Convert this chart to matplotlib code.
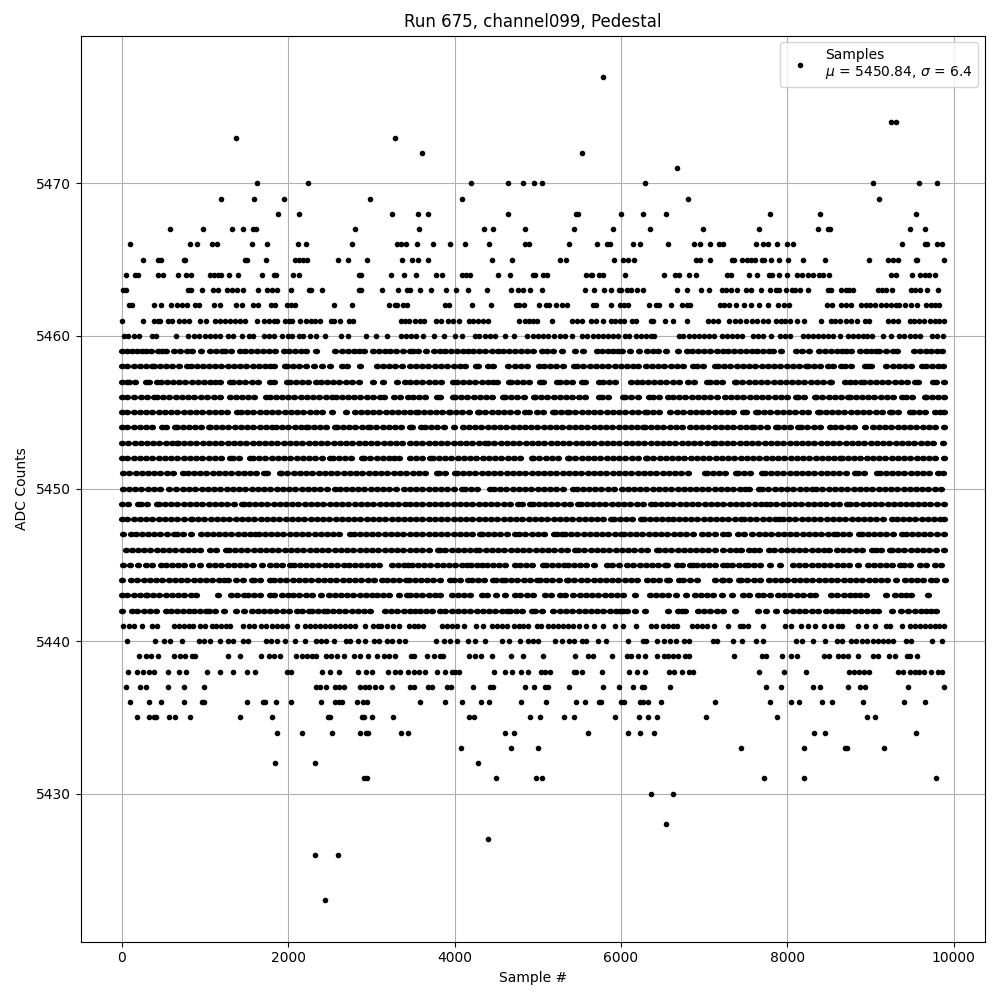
import matplotlib
matplotlib.use("Agg")
import matplotlib.pyplot as plt
from matplotlib.markers import MarkerStyle
from matplotlib.transforms import Affine2D

row_5423 = [2448]
row_5426 = [2328, 2604]
row_5427 = [4408]
row_5428 = [6544]
row_5430 = [6364, 6628]
row_5431 = [2908, 2948, 4504, 4984, 5056, 7720, 8200, 9784]
row_5432 = [1840, 2320, 4288]
row_5433 = [4072, 4684, 5008, 7444, 8200, 8692, 8716, 9160]
row_5434 = [1864, 2164, 2524, 2860, 2932, 2956, 3352, 3436, 4612, 4720, 5608, 6088, 6232, 6400, 8320, 8452, 9544]
row_5435 = [184, 328, 388, 412, 568, 640, 820, 1420, 1804, 2476, 2500, 2884, 2908, 3004, 3256, 4180, 4240, 4912, 5032, 5320, 5440, 5932, 6220, 6328, 6436, 7024, 7876, 8956, 9052]
row_5436 = [100, 328, 472, 748, 964, 988, 1504, 1696, 1720, 1852, 2032, 2392, 2560, 2608, 2644, 2824, 2896, 2944, 3580, 3880, 4084, 4324, 4420, 4804, 5104, 5464, 5572, 5740, 5764, 6004, 6040, 6232, 6268, 6328, 6484, 7132, 7792, 8044, 8140, 8416, 8536, 8908, 9400, 9652]
row_5437 = [52, 220, 292, 556, 748, 988, 2332, 2380, 2452, 2560, 2608, 2668, 2860, 2920, 2968, 3040, 3112, 3244, 3460, 3508, 3676, 3724, 3904, 3952, 4228, 4432, 4468, 4852, 4960, 5092, 5128, 5380, 5788, 5980, 6148, 6256, 6280, 6592, 7744, 7924, 8308, 8392, 8728, 8872, 8932, 9448, 9880]
row_5438 = [76, 184, 256, 328, 388, 556, 688, 772, 1024, 1180, 1336, 1504, 1600, 1984, 2032, 2404, 2500, 2608, 2836, 2932, 3004, 3196, 3280, 3340, 3436, 3508, 3568, 3640, 3784, 3880, 3964, 4000, 4048, 4480, 4612, 4696, 4804, 4888, 5044, 5092, 5152, 5440, 5464, 5536, 5776, 6100, 6196, 6292, 6580, 6640, 6736, 6820, 6868, 7660, 7960, 8224, 8740, 8800, 8860, 8920, 8980, 9328, 9388, 9472, 9532, 9580, 9640, 9724, 9808, 9856]
row_5439 = [208, 292, 352, 436, 628, 700, 760, 844, 880, 1276, 1420, 1672, 1768, 1828, 1900, 2092, 2164, 2224, 2284, 2332, 2452, 2512, 2584, 2668, 2788, 2860, 2956, 3064, 3148, 3208, 3280, 3472, 3508, 3664, 3748, 3820, 3856, 4180, 4252, 4324, 4456, 4684, 4828, 5068, 5452, 5608, 5668, 5896, 6076, 6124, 6208, 6292, 6436, 6520, 6568, 6628, 6688, 6772, 6820, 7360, 7696, 7744, 7936, 8044, 8116, 8440, 8500, 8608, 8668, 8728, 8848, 9028, 9088, 9220, 9292, 9436, 9472, 9556]
row_5440 = [64, 400, 508, 580, 724, 928, 988, 1060, 1180, 1276, 1336, 1456, 1516, 1732, 1792, 1864, 1960, 2080, 2200, 2332, 2392, 2452, 2548, 2692, 2740, 2836, 2920, 3028, 3088, 3184, 3244, 3328, 3400, 3772, 3868, 3940, 4024, 4156, 4252, 4372, 4576, 4660, 4792, 4888, 4948, 5008, 5212, 5296, 5380, 5440, 5536, 5584, 5728, 5824, 6088, 6268, 6304, 6436, 6520, 6592, 6664, 6760, 6820, 7108, 7156, 7348, 7456, 7624, 7708, 8104, 8176, 8308, 8452, 8596, 8656, 8764, 8824, 8896, 8956, 9028, 9088, 9148, 9208, 9268, 9424, 9484, 9736, 9856]
row_5441 = [20, 88, 148, 244, 364, 424, 628, 688, 748, 808, 856, 940, 1000, 1084, 1132, 1192, 1252, 1300, 1456, 1528, 1588, 1672, 1732, 1804, 1864, 1924, 1984, 2112, 2200, 2260, 2320, 2380, 2440, 2500, 2560, 2620, 2680, 2740, 2800, 2920, 3016, 3076, 3112, 3184, 3256, 3328, 3448, 3508, 3556, 3616, 3844, 3904, 3964, 4024, 4108, 4264, 4348, 4456, 4516, 4576, 4636, 4720, 4780, 4828, 4888, 4996, 5044, 5128, 5188, 5248, 5308, 5368, 5428, 5500, 5584, 5680, 5788, 5932, 6028, 6184, 6364, 6424, 6508, 6568, 6628, 6676, 6856, 6916, 6976, 7036, 7120, 7288, 7432, 7468, 7528, 7708, 7972, 8044, 8164, 8248, 8332, 8440, 8524, 8608, 8656, 8848, 8944, 9052, 9184, 9232, 9376, 9472, 9532, 9592, 9652, 9712, 9772, 9820, 9880]
row_5442 = [8, 128, 188, 268, 340, 410, 528, 588, 660, 735, 808, 868, 940, 1008, 1048, 1120, 1228, 1376, 1476, 1568, 1636, 1710, 1785, 1860, 1935, 2010, 2108, 2168, 2248, 2288, 2360, 2428, 2468, 2540, 2615, 2690, 2765, 2840, 2915, 2988, 3168, 3240, 3308, 3388, 3460, 3528, 3588, 3660, 3728, 3820, 3888, 3968, 4040, 4115, 4190, 4265, 4340, 4415, 4490, 4565, 4628, 4668, 4740, 4815, 4928, 4968, 5048, 5180, 5268, 5340, 5415, 5490, 5565, 5640, 5715, 5790, 5865, 5940, 5988, 6028, 6068, 6168, 6288, 6568, 6688, 6728, 6768, 6928, 7000, 7075, 7150, 7228, 7368, 7648, 7748, 7860, 7988, 8068, 8140, 8215, 8290, 8365, 8468, 8540, 8608, 8668, 8728, 8808, 8880, 8955, 9030, 9088, 9256, 9368, 9448, 9528, 9608, 9660, 9725, 9788]
row_5443 = [0, 70, 145, 220, 288, 308, 380, 455, 530, 605, 680, 755, 830, 888, 1156, 1316, 1390, 1468, 1516, 1590, 1665, 1780, 1836, 1928, 1996, 2060, 2135, 2210, 2285, 2396, 2488, 2560, 2635, 2710, 2785, 2860, 2935, 3008, 3068, 3140, 3215, 3328, 3428, 3468, 3540, 3608, 3688, 3768, 3828, 3968, 4040, 4115, 4190, 4328, 4396, 4500, 4612, 4728, 4788, 4868, 4948, 5088, 5160, 5268, 5328, 5428, 5508, 5580, 5655, 5730, 5805, 5880, 5948, 6028, 6172, 6348, 6420, 6495, 6568, 6660, 6780, 6888, 6956, 7030, 7105, 7208, 7336, 7468, 7540, 7648, 7708, 7796, 7888, 7960, 8035, 8110, 8185, 8268, 8328, 8528, 8600, 8675, 8750, 8808, 8868, 8948, 9188, 9288, 9360, 9428, 9488, 9688]
row_5444 = [8, 116, 190, 265, 340, 415, 490, 565, 640, 715, 790, 865, 940, 1015, 1090, 1165, 1228, 1276, 1380, 1455, 1568, 1588, 1660, 1788, 1828, 1908, 1980, 2055, 2130, 2205, 2280, 2355, 2430, 2505, 2580, 2655, 2730, 2805, 2880, 2955, 3030, 3128, 3188, 3260, 3335, 3420, 3448, 3520, 3595, 3670, 3745, 3820, 3948, 3988, 4060, 4168, 4208, 4280, 4355, 4460, 4500, 4568, 4608, 4680, 4755, 4830, 4905, 4996, 5028, 5100, 5175, 5250, 5348, 5368, 5440, 5515, 5590, 5676, 5748, 5820, 5895, 5970, 6045, 6120, 6195, 6308, 6388, 6460, 6548, 6580, 6700, 6748, 6828, 6908, 7128, 7208, 7228, 7300, 7420, 7448, 7520, 7595, 7668, 7780, 7850, 7925, 8000, 8075, 8150, 8225, 8300, 8375, 8450, 8525, 8600, 8675, 8750, 8825, 8900, 8975, 9050, 9125, 9196, 9308, 9408, 9488, 9560, 9635, 9728, 9780, 9888]
row_5445 = [20, 100, 196, 288, 368, 468, 528, 600, 675, 750, 848, 940, 1048, 1128, 1200, 1275, 1350, 1425, 1500, 1575, 1688, 1780, 1855, 1930, 2028, 2068, 2140, 2215, 2290, 2365, 2440, 2515, 2590, 2668, 2728, 2800, 2875, 2950, 3025, 3088, 3248, 3320, 3388, 3436, 3488, 3560, 3635, 3710, 3785, 3860, 3935, 4010, 4085, 4148, 4196, 4276, 4328, 4388, 4460, 4535, 4610, 4728, 4788, 4860, 4935, 5060, 5100, 5168, 5240, 5316, 5360, 5432, 5507, 5582, 5680, 5828, 5888, 5980, 6076, 6148, 6223, 6298, 6373, 6448, 6528, 6548, 6676, 6728, 6828, 6868, 6908, 6980, 7055, 7130, 7228, 7268, 7340, 7415, 7488, 7528, 7596, 7668, 7788, 7908, 8068, 8140, 8215, 8290, 8365, 8440, 8515, 8590, 8665, 8740, 8848, 8968, 9040, 9108, 9180, 9260, 9348, 9396, 9476, 9588, 9660, 9768, 9848]
row_5446 = [48, 120, 195, 270, 345, 420, 495, 570, 645, 720, 795, 870, 945, 1060, 1140, 1260, 1288, 1360, 1435, 1510, 1585, 1660, 1735, 1810, 1885, 1960, 2035, 2110, 2185, 2260, 2335, 2410, 2485, 2560, 2635, 2710, 2785, 2860, 2935, 3010, 3085, 3160, 3235, 3310, 3385, 3468, 3540, 3615, 3690, 3796, 3820, 3890, 3965, 4040, 4115, 4190, 4260, 4300, 4380, 4450, 4525, 4600, 4675, 4750, 4825, 4900, 4975, 5050, 5125, 5200, 5275, 5350, 5448, 5488, 5560, 5635, 5710, 5785, 5860, 5935, 6010, 6085, 6160, 6235, 6310, 6428, 6460, 6530, 6605, 6680, 6755, 6828, 6900, 6975, 7050, 7125, 7228, 7308, 7388, 7448, 7540, 7596, 7656, 7780, 7840, 7920, 7990, 8065, 8140, 8215, 8290, 8365, 8436, 8500, 8596, 8668, 8743, 8818, 8893, 9020, 9060, 9130, 9228, 9260, 9330, 9405, 9480, 9555, 9630, 9705, 9780, 9880]
row_5447 = [16, 108, 168, 240, 315, 390, 465, 540, 628, 668, 740, 836, 948, 1020, 1095, 1170, 1245, 1320, 1395, 1470, 1545, 1608, 1648, 1720, 1795, 1870, 1945, 2020, 2095, 2170, 2245, 2320, 2395, 2468, 2540, 2610, 2748, 2788, 2860, 2935, 3010, 3085, 3160, 3235, 3310, 3385, 3468, 3540, 3615, 3690, 3765, 3840, 3915, 3990, 4065, 4140, 4215, 4308, 4328, 4400, 4475, 4550, 4625, 4728, 4780, 4850, 4925, 5000, 5075, 5196, 5228, 5288, 5328, 5400, 5475, 5550, 5625, 5700, 5775, 5850, 5925, 5996, 6036, 6108, 6183, 6258, 6333, 6408, 6483, 6558, 6633, 6708, 6783, 6868, 6968, 7040, 7130, 7228, 7288, 7408, 7480, 7576, 7660, 7732, 7807, 7882, 7957, 8032, 8107, 8182, 8257, 8332, 8407, 8482, 8556, 8596, 8668, 8743, 8856, 8900, 8968, 9040, 9115, 9190, 9265, 9380, 9420, 9492, 9567, 9642, 9717, 9792, 9876]
row_5448 = [0, 70, 145, 220, 295, 370, 445, 520, 595, 670, 745, 828, 848, 920, 995, 1070, 1145, 1220, 1295, 1370, 1445, 1520, 1595, 1670, 1745, 1820, 1895, 1970, 2045, 2120, 2195, 2270, 2345, 2420, 2495, 2570, 2645, 2720, 2795, 2870, 2945, 3020, 3095, 3170, 3245, 3320, 3395, 3468, 3540, 3615, 3690, 3765, 3840, 3915, 3990, 4065, 4140, 4215, 4290, 4365, 4440, 4515, 4590, 4665, 4740, 4815, 4890, 4965, 5040, 5115, 5190, 5265, 5340, 5415, 5490, 5565, 5640, 5715, 5790, 5876, 5916, 5988, 6063, 6138, 6236, 6276, 6348, 6423, 6498, 6568, 6620, 6692, 6767, 6842, 6917, 6992, 7067, 7142, 7217, 7292, 7367, 7440, 7480, 7552, 7627, 7702, 7777, 7848, 7900, 7948, 8020, 8095, 8170, 8245, 8320, 8395, 8470, 8545, 8620, 8695, 8770, 8845, 8920, 8995, 9070, 9145, 9260, 9316, 9388, 9463, 9538, 9613, 9688, 9763, 9838, 9880]
row_5449 = [8, 80, 196, 228, 300, 428, 448, 520, 595, 670, 745, 820, 895, 970, 1045, 1120, 1195, 1270, 1345, 1448, 1476, 1528, 1600, 1675, 1750, 1825, 1900, 1975, 2050, 2125, 2200, 2275, 2350, 2425, 2500, 2575, 2650, 2725, 2800, 2875, 2950, 3025, 3100, 3175, 3250, 3325, 3400, 3468, 3540, 3615, 3690, 3765, 3840, 3915, 3990, 4065, 4140, 4215, 4290, 4365, 4440, 4515, 4590, 4665, 4768, 4808, 4908, 4940, 5012, 5087, 5162, 5237, 5312, 5387, 5488, 5516, 5588, 5663, 5738, 5813, 5888, 5963, 6038, 6113, 6188, 6263, 6356, 6408, 6480, 6555, 6630, 6705, 6780, 6855, 6930, 7005, 7080, 7155, 7230, 7305, 7380, 7455, 7530, 7605, 7680, 7748, 7796, 7868, 7943, 8018, 8093, 8168, 8243, 8318, 8393, 8468, 8543, 8618, 8720, 8756, 8828, 8903, 8978, 9053, 9128, 9203, 9278, 9353, 9428, 9496, 9568, 9643, 9718, 9793, 9880]
row_5450 = [16, 88, 163, 238, 313, 388, 463, 568, 648, 740, 812, 887, 962, 1037, 1112, 1187, 1262, 1337, 1412, 1487, 1562, 1637, 1712, 1787, 1862, 1937, 2012, 2087, 2162, 2237, 2312, 2387, 2462, 2568, 2620, 2692, 2767, 2842, 2917, 2992, 3067, 3142, 3217, 3292, 3388, 3468, 3540, 3615, 3690, 3765, 3840, 3915, 3990, 4088, 4128, 4200, 4275, 4428, 4476, 4548, 4623, 4698, 4773, 4848, 4923, 4998, 5073, 5148, 5223, 5298, 5428, 5468, 5540, 5615, 5690, 5765, 5840, 5915, 6008, 6080, 6155, 6230, 6305, 6380, 6455, 6530, 6605, 6680, 6755, 6828, 6900, 6975, 7050, 7125, 7200, 7275, 7350, 7425, 7488, 7540, 7660, 7700, 7772, 7847, 7922, 7997, 8072, 8147, 8222, 8300, 8348, 8420, 8495, 8570, 8645, 8720, 8795, 8870, 8945, 9020, 9095, 9170, 9245, 9320, 9395, 9470, 9545, 9620, 9695, 9770, 9848]
row_5451 = [20, 92, 167, 242, 317, 392, 467, 542, 617, 740, 796, 868, 943, 1018, 1093, 1168, 1243, 1318, 1393, 1468, 1543, 1618, 1708, 1748, 1900, 1920, 1992, 2067, 2142, 2217, 2292, 2367, 2442, 2517, 2592, 2667, 2742, 2817, 2892, 2967, 3042, 3117, 3192, 3267, 3342, 3417, 3500, 3575, 3650, 3788, 3808, 3880, 4008, 4028, 4100, 4175, 4250, 4325, 4400, 4475, 4550, 4625, 4700, 4775, 4850, 4925, 5000, 5075, 5150, 5225, 5300, 5375, 5450, 5525, 5600, 5675, 5750, 5825, 5900, 5975, 6050, 6125, 6200, 6275, 6350, 6425, 6500, 6575, 6650, 6725, 6800, 7008, 7028, 7100, 7175, 7250, 7380, 7408, 7480, 7555, 7700, 7728, 7800, 7875, 7950, 8025, 8100, 8175, 8250, 8325, 8400, 8475, 8550, 8625, 8700, 8808, 8848, 8920, 9076, 9108, 9180, 9255, 9330, 9405, 9480, 9555, 9630, 9705, 9808, 9868]
row_5452 = [0, 70, 145, 220, 295, 370, 445, 520, 595, 670, 745, 820, 895, 970, 1045, 1120, 1195, 1300, 1340, 1412, 1548, 1580, 1652, 1727, 1802, 1877, 1952, 2027, 2102, 2177, 2252, 2327, 2402, 2500, 2540, 2612, 2687, 2762, 2888, 2916, 2988, 3063, 3138, 3208, 3268, 3328, 3468, 3540, 3615, 3708, 3740, 3812, 3887, 3962, 4037, 4112, 4187, 4262, 4337, 4412, 4487, 4562, 4637, 4712, 4787, 4928, 4948, 5020, 5095, 5170, 5245, 5360, 5380, 5452, 5527, 5602, 5677, 5752, 5827, 5902, 5977, 6052, 6127, 6202, 6300, 6316, 6388, 6463, 6538, 6613, 6688, 6763, 6838, 6913, 6988, 7063, 7138, 7213, 7288, 7363, 7438, 7513, 7588, 7663, 7738, 7813, 7888, 7963, 8038, 8113, 8188, 8263, 8338, 8413, 8488, 8563, 8636, 8656, 8728, 8803, 8878, 8953, 9028, 9103, 9178, 9253, 9328, 9403, 9478, 9553, 9628, 9703, 9778, 9880]
row_5453 = [8, 80, 155, 230, 305, 380, 455, 530, 605, 660, 676, 748, 823, 898, 973, 1048, 1123, 1198, 1273, 1348, 1423, 1498, 1573, 1648, 1723, 1798, 1873, 1948, 2023, 2098, 2173, 2248, 2323, 2398, 2473, 2548, 2623, 2698, 2773, 2848, 2923, 2998, 3073, 3148, 3223, 3298, 3373, 3468, 3540, 3615, 3690, 3765, 3840, 3915, 3990, 4065, 4140, 4215, 4290, 4368, 4408, 4480, 4555, 4630, 4705, 4780, 4855, 4930, 5005, 5080, 5155, 5230, 5305, 5380, 5455, 5530, 5605, 5680, 5755, 5830, 5905, 5980, 6055, 6130, 6205, 6280, 6355, 6430, 6505, 6580, 6655, 6730, 6805, 6880, 6955, 7030, 7100, 7128, 7200, 7275, 7350, 7425, 7500, 7575, 7650, 7725, 7800, 7875, 7950, 8025, 8100, 8175, 8250, 8325, 8400, 8475, 8550, 8625, 8700, 8775, 8850, 8925, 9000, 9075, 9150, 9225, 9300, 9375, 9450, 9525, 9600, 9675, 9750, 9868]
row_5454 = [0, 70, 145, 220, 295, 370, 488, 528, 636, 660, 732, 807, 882, 957, 1048, 1060, 1132, 1207, 1282, 1357, 1432, 1507, 1582, 1657, 1732, 1808, 1856, 1928, 2003, 2078, 2153, 2220, 2236, 2308, 2383, 2458, 2568, 2588, 2660, 2735, 2810, 2885, 2956, 2988, 3060, 3135, 3210, 3285, 3360, 3468, 3488, 3600, 3648, 3720, 3795, 3870, 3996, 4100, 4172, 4247, 4322, 4397, 4472, 4547, 4622, 4697, 4772, 4847, 4922, 4997, 5072, 5147, 5222, 5297, 5372, 5447, 5522, 5597, 5672, 5747, 5822, 5897, 5972, 6047, 6122, 6197, 6268, 6288, 6360, 6435, 6510, 6585, 6660, 6735, 6828, 6900, 6975, 7050, 7125, 7200, 7275, 7350, 7425, 7500, 7580, 7604, 7676, 7751, 7868, 7888, 7960, 8035, 8128, 8168, 8240, 8315, 8390, 8516, 8576, 8648, 8723, 8798, 8936, 9028, 9100, 9175, 9250, 9325, 9400, 9475, 9550, 9625, 9700, 9775, 9880]
row_5455 = [0, 70, 145, 220, 295, 370, 445, 520, 595, 670, 745, 820, 895, 970, 1045, 1120, 1195, 1270, 1388, 1436, 1508, 1583, 1658, 1733, 1808, 1883, 1958, 2033, 2108, 2183, 2258, 2333, 2408, 2528, 2700, 2800, 2872, 2947, 3022, 3097, 3172, 3247, 3322, 3397, 3468, 3540, 3556, 3628, 3703, 3778, 3853, 3928, 3948, 4020, 4095, 4170, 4280, 4300, 4372, 4447, 4522, 4597, 4672, 4747, 4848, 4900, 4988, 5060, 5188, 5208, 5280, 5348, 5380, 5452, 5527, 5602, 5677, 5752, 5827, 5902, 5977, 6052, 6127, 6202, 6288, 6308, 6380, 6455, 6588, 6676, 6748, 6828, 6900, 6975, 7050, 7125, 7200, 7275, 7350, 7468, 7508, 7628, 7648, 7720, 7795, 7870, 7945, 8020, 8095, 8170, 8245, 8368, 8388, 8460, 8535, 8610, 8685, 8760, 8835, 8910, 8985, 9060, 9135, 9228, 9252, 9324, 9468, 9508, 9580, 9655, 9768, 9828, 9880]
row_5456 = [0, 70, 145, 236, 308, 388, 428, 500, 575, 650, 725, 800, 875, 950, 1028, 1108, 1180, 1308, 1376, 1448, 1520, 1595, 1740, 1780, 1852, 1927, 2002, 2077, 2152, 2227, 2302, 2377, 2452, 2528, 2580, 2648, 2720, 2795, 2870, 2945, 3020, 3108, 3156, 3268, 3348, 3436, 3500, 3572, 3647, 3788, 3828, 3980, 4008, 4080, 4155, 4230, 4305, 4380, 4455, 4580, 4608, 4680, 4755, 4830, 4956, 4968, 5040, 5115, 5190, 5265, 5340, 5415, 5496, 5568, 5736, 5768, 5840, 6020, 6052, 6124, 6199, 6340, 6388, 6460, 6568, 6628, 6700, 6775, 6850, 6925, 7000, 7075, 7156, 7248, 7320, 7395, 7470, 7545, 7620, 7695, 7770, 7845, 7920, 7995, 8108, 8128, 8200, 8328, 8348, 8420, 8495, 8570, 8645, 8728, 8748, 8820, 8895, 8970, 9045, 9120, 9195, 9270, 9380, 9428, 9500, 9648, 9668, 9740, 9815, 9880]
row_5457 = [0, 60, 88, 160, 288, 328, 428, 468, 540, 615, 690, 765, 840, 915, 990, 1065, 1128, 1188, 1308, 1340, 1412, 1487, 1562, 1637, 1788, 1828, 1988, 2020, 2092, 2167, 2242, 2340, 2396, 2468, 2543, 2618, 2693, 2768, 2848, 3016, 3136, 3308, 3408, 3468, 3540, 3615, 3690, 3765, 3840, 3980, 4028, 4100, 4175, 4250, 4325, 4400, 4468, 4508, 4660, 4676, 4748, 4823, 4898, 5028, 5068, 5236, 5268, 5340, 5415, 5528, 5568, 5736, 5780, 5860, 5932, 6116, 6196, 6248, 6320, 6395, 6470, 6545, 6620, 6695, 6808, 6876, 7028, 7068, 7140, 7215, 7368, 7388, 7460, 7535, 7610, 7685, 7760, 7835, 7908, 7980, 8055, 8130, 8205, 8280, 8355, 8430, 8508, 8528, 8696, 8756, 8808, 8888, 8916, 8988, 9063, 9138, 9213, 9288, 9363, 9438, 9528, 9568, 9748, 9780, 9880]
row_5458 = [0, 70, 145, 220, 295, 368, 388, 460, 535, 610, 685, 780, 828, 900, 975, 1050, 1125, 1200, 1275, 1350, 1425, 1500, 1575, 1650, 1725, 1788, 1836, 1968, 1988, 2060, 2135, 2220, 2308, 2412, 2508, 2648, 2708, 2868, 3068, 3140, 3215, 3290, 3365, 3468, 3540, 3615, 3684, 3760, 3832, 3907, 3996, 4060, 4128, 4260, 4288, 4408, 4468, 4648, 4728, 4796, 4868, 5020, 5076, 5148, 5223, 5298, 5436, 5476, 5548, 5623, 5698, 5773, 5848, 5923, 5998, 6073, 6148, 6208, 6300, 6376, 6448, 6523, 6598, 6673, 6748, 6868, 6908, 6980, 7128, 7168, 7240, 7315, 7390, 7465, 7540, 7615, 7690, 7765, 7840, 7915, 7990, 8065, 8140, 8228, 8248, 8320, 8395, 8488, 8548, 8648, 8688, 8760, 8928, 8968, 9008, 9180, 9268, 9340, 9415, 9490, 9620, 9660, 9732, 9807, 9868]
row_5459 = [0, 60, 120, 180, 240, 288, 356, 436, 490, 528, 628, 700, 788, 850, 948, 1060, 1130, 1208, 1248, 1320, 1420, 1488, 1560, 1630, 1700, 1770, 1840, 1948, 2008, 2080, 2150, 2220, 2340, 2560, 2648, 2716, 2788, 2850, 2908, 3016, 3090, 3160, 3230, 3300, 3380, 3468, 3500, 3556, 3652, 3748, 3820, 3890, 3960, 4030, 4100, 4168, 4228, 4300, 4370, 4450, 4528, 4588, 4660, 4730, 4800, 4870, 4940, 5048, 5108, 5180, 5288, 5448, 5540, 5708, 5768, 5840, 5900, 5968, 6008, 6108, 6220, 6308, 6380, 6448, 6544, 6680, 6788, 6850, 6920, 7000, 7068, 7148, 7220, 7290, 7360, 7430, 7500, 7570, 7640, 7710, 7780, 7828, 7928, 8108, 8180, 8260, 8380, 8450, 8520, 8590, 8650, 8708, 8764, 8868, 8940, 9000, 9068, 9100, 9180, 9268, 9316, 9520, 9590, 9660, 9730, 9800, 9860]
row_5460 = [28, 76, 148, 208, 364, 412, 652, 796, 868, 928, 1000, 1060, 1120, 1180, 1276, 1336, 1444, 1528, 1576, 1708, 1768, 1828, 1924, 1996, 2044, 2128, 2176, 2260, 2332, 2440, 2632, 2716, 2932, 3052, 3184, 3352, 3412, 3472, 3532, 3616, 3748, 3868, 4000, 4084, 4252, 4300, 4372, 4432, 4492, 4612, 4720, 4876, 4948, 5008, 5068, 5128, 5196, 5268, 5328, 5416, 5536, 5596, 5668, 5728, 5788, 5848, 5908, 5968, 6048, 6100, 6184, 6244, 6304, 6364, 6400, 6700, 6748, 6820, 6880, 6940, 7000, 7060, 7120, 7216, 7276, 7336, 7396, 7456, 7588, 7648, 7708, 7804, 7912, 7972, 8032, 8188, 8248, 8308, 8368, 8428, 8488, 8548, 8632, 8728, 8788, 8848, 8908, 8956, 9016, 9148, 9244, 9340, 9400, 9472, 9532, 9592, 9736, 9796, 9868]
row_5461 = [4, 256, 388, 436, 460, 556, 604, 688, 748, 808, 940, 1012, 1120, 1180, 1240, 1300, 1360, 1420, 1480, 1624, 1708, 1768, 1828, 1864, 1960, 2008, 2044, 2140, 2212, 2272, 2320, 2380, 2512, 2548, 2620, 2728, 2776, 3352, 3400, 3448, 3520, 3580, 3628, 3772, 3832, 3916, 3976, 4048, 4180, 4228, 4288, 4348, 4408, 4780, 4852, 4900, 4948, 4996, 5176, 5416, 5476, 5536, 5644, 5704, 5788, 5884, 5932, 5992, 6040, 6136, 6184, 6364, 6388, 6532, 6628, 6796, 7048, 7108, 7168, 7300, 7372, 7432, 7504, 7576, 7636, 7708, 7768, 7864, 7924, 7972, 8032, 8116, 8200, 8404, 8524, 8572, 8632, 8704, 8764, 8836, 8932, 8980, 9208, 9268, 9328, 9472, 9520, 9580, 9640, 9712, 9772, 9820, 9880]
row_5462 = [88, 124, 388, 472, 592, 664, 724, 784, 880, 928, 1108, 1180, 1372, 1444, 1576, 1636, 1792, 1840, 1984, 2032, 2080, 2548, 2764, 3208, 3280, 3304, 3376, 3424, 3880, 3928, 4216, 4444, 4744, 4780, 4840, 5020, 5104, 5140, 5224, 5296, 5356, 5668, 5704, 5884, 5992, 6040, 6088, 6340, 6424, 6460, 6604, 6736, 6796, 6832, 7192, 7240, 7300, 7384, 7480, 7564, 7660, 7768, 7888, 7960, 8020, 8476, 8536, 8644, 8704, 8764, 8884, 8944, 8992, 9052, 9124, 9184, 9244, 9304, 9340, 9412, 9484, 9556, 9664, 9724, 9772, 9820]
row_5463 = [20, 56, 796, 832, 964, 1096, 1156, 1264, 1324, 1384, 1456, 1636, 1744, 1804, 1864, 2032, 2248, 2272, 2404, 2848, 2872, 3124, 3316, 3424, 3460, 3580, 3712, 3892, 4012, 4156, 4396, 4684, 4768, 4828, 4908, 5052, 5572, 5680, 5800, 5884, 5980, 6004, 6076, 6124, 6196, 6268, 6676, 6796, 6964, 7060, 7216, 7264, 7324, 7396, 7504, 7564, 7684, 7792, 7864, 7900, 7984, 8056, 8092, 8152, 8248, 8488, 8524, 8644, 8704, 8740, 8788, 9088, 9136, 9184, 9256, 9484, 9532, 9592, 9676, 9808]
row_5464 = [56, 160, 196, 436, 496, 676, 772, 832, 1060, 1108, 1156, 1192, 1288, 1404, 1684, 1828, 1852, 2056, 2128, 2848, 2872, 3232, 3388, 3532, 3772, 3844, 4084, 4132, 4192, 4520, 4672, 4948, 4972, 5068, 5116, 5584, 5644, 5656, 5740, 5788, 6052, 6520, 6652, 6700, 6820, 6904, 7276, 7324, 7540, 7636, 7780, 7816, 7900, 7996, 8116, 8176, 8248, 8308, 8380, 8428, 8500, 9244, 9308, 9496, 9596, 9656, 9700, 9772]
row_5465 = [256, 436, 472, 748, 764, 1480, 1508, 1732, 2080, 2128, 2176, 2224, 2596, 2716, 2944, 3364, 3484, 3556, 3676, 4456, 4696, 5272, 5344, 5920, 6028, 6088, 6160, 6904, 6952, 7072, 7336, 7360, 7456, 7516, 7564, 7612, 7696, 7720, 7808, 7900, 8008, 8188, 8452, 8980, 9208, 9268, 9328, 9544, 9556, 9880]
row_5466 = [100, 820, 904, 1084, 1144, 1564, 1744, 2116, 2212, 2764, 3304, 3352, 3412, 3544, 3736, 3940, 4120, 4420, 4852, 4900, 5380, 5716, 5836, 5868, 6148, 6232, 6568, 6880, 6952, 7072, 7180, 7228, 7624, 7708, 7768, 7876, 7996, 8068, 9376, 9652, 9676, 9796, 9856]
row_5467 = [580, 976, 1324, 1456, 1576, 1612, 2800, 3568, 4360, 4468, 4852, 5440, 5908, 6352, 6988, 7660, 8368, 8488, 8516, 9472, 9652]
row_5468 = [1876, 2128, 3244, 3556, 3676, 4648, 5456, 5488, 6004, 6268, 6544, 7792, 8392, 9544]
row_5469 = [1192, 1588, 1948, 2980, 4084, 6808, 9100]
row_5470 = [1624, 2236, 4204, 4648, 4828, 4960, 5048, 6292, 9028, 9580, 9796]
row_5471 = [6672]
row_5472 = [3604, 5536]
row_5473 = [1372, 3280]
row_5474 = [9244, 9308]
row_5477 = [5784]

rows = {
    5423: row_5423, 5426: row_5426, 5427: row_5427, 5428: row_5428, 5430: row_5430,
    5431: row_5431, 5432: row_5432, 5433: row_5433, 5434: row_5434, 5435: row_5435,
    5436: row_5436, 5437: row_5437, 5438: row_5438, 5439: row_5439, 5440: row_5440,
    5441: row_5441, 5442: row_5442, 5443: row_5443, 5444: row_5444, 5445: row_5445,
    5446: row_5446, 5447: row_5447, 5448: row_5448, 5449: row_5449, 5450: row_5450,
    5451: row_5451, 5452: row_5452, 5453: row_5453, 5454: row_5454, 5455: row_5455,
    5456: row_5456, 5457: row_5457, 5458: row_5458, 5459: row_5459, 5460: row_5460,
    5461: row_5461, 5462: row_5462, 5463: row_5463, 5464: row_5464, 5465: row_5465,
    5466: row_5466, 5467: row_5467, 5468: row_5468, 5469: row_5469, 5470: row_5470,
    5471: row_5471, 5472: row_5472, 5473: row_5473, 5474: row_5474, 5477: row_5477,
}

sparse_x, sparse_y, dense_x, dense_y = [], [], [], []
for level, xs in rows.items():
    if 5442 <= level <= 5459:
        dense_x.extend(xs)
        dense_y.extend([level] * len(xs))
    else:
        sparse_x.extend(xs)
        sparse_y.extend([level] * len(xs))

fig, ax = plt.subplots(figsize=(10, 10), dpi=100)
ax.plot(sparse_x, sparse_y, "k.", label="Samples\n$\\mu$ = 5450.84, $\\sigma$ = 6.4")
# The typed points in the solid bands are a thinned reading of the runs, so their
# dots are widened sideways to close up into runs as in the reference.
wide_dot = MarkerStyle(".", transform=Affine2D().scale(1.4, 1.0))
ax.plot(dense_x, dense_y, linestyle="none", color="k", marker=wide_dot)
ax.set_xlim(-494, 10374)
ax.set_ylim(5420.3, 5479.7)
ax.set_title("Run 675, channel099, Pedestal")
ax.set_xlabel("Sample #")
ax.set_ylabel("ADC Counts", labelpad=5)
ax.grid(True)
ax.legend(loc="upper right")
fig.subplots_adjust(left=0.0805, right=0.985, top=0.9645, bottom=0.0585)
fig.savefig("out.png", dpi=100)
